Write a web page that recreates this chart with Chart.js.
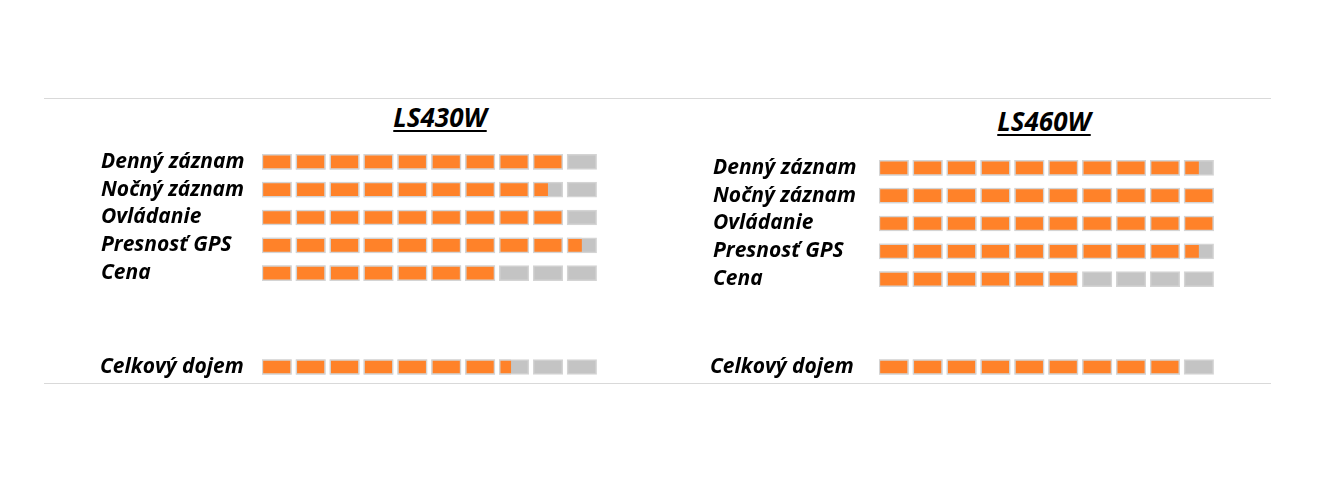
<!DOCTYPE html>
<html>
<head>
<meta charset="utf-8">
<title>LS430W vs LS460W</title>
<script src="https://cdn.jsdelivr.net/npm/chart.js@4"></script>
<style>
  body {
    margin: 0;
    width: 1324px;
    height: 496px;
    position: relative;
    background: #fff;
    overflow: hidden;
    font-family: "Open Sans", sans-serif;
  }
  .rule {
    position: absolute;
    left: 44px;
    width: 1227px;
    height: 0;
    border-top: 1px solid #d9d9d9;
  }
  .title {
    position: absolute;
    width: 200px;
    text-align: center;
    font: italic 700 26px "Open Sans", sans-serif;
    line-height: 1.2;
    text-decoration: underline;
    text-decoration-thickness: 2px;
    text-underline-offset: 3px;
    color: #000;
  }
  .box { position: absolute; }
</style>
</head>
<body>
  <div class="rule" style="top:98px"></div>
  <div class="rule" style="top:383px"></div>

  <div class="title" style="left:340px; top:102px">LS430W</div>
  <div class="title" style="left:944px; top:106px">LS460W</div>

  <div class="box" style="left:101px; top:148px; width:500px; height:139px"><canvas id="topLeft"></canvas></div>
  <div class="box" style="left:100px; top:353px; width:501px; height:28px"><canvas id="bottomLeft"></canvas></div>
  <div class="box" style="left:713px; top:154px; width:505px; height:139px"><canvas id="topRight"></canvas></div>
  <div class="box" style="left:710px; top:353px; width:508px; height:28px"><canvas id="bottomRight"></canvas></div>

<script>
  // ratings, out of 10 segments
  const criteria = ['Denný záznam', 'Nočný záznam', 'Ovládanie', 'Presnosť GPS', 'Cena'];
  const overallLabel = ['Celkový dojem'];
  const ls430w = [9, 8.5, 9, 9.5, 7];
  const ls430wOverall = [7.4];
  const ls460w = [9.5, 10, 10, 9.5, 6];
  const ls460wOverall = [9];
  const segmentCount = 10;

  const ORANGE = '#ff8229';
  const GRAY = '#c4c4c4';
  const EDGE = '#d4d4d4';
  const FILL = 0.87; // share of one unit taken by a segment, rest is the gap

  function buildDatasets(values) {
    const sets = [];
    for (let k = 0; k < segmentCount; k++) {
      // grey background segment
      sets.push({
        data: values.map(() => [k, k + FILL]),
        backgroundColor: GRAY,
        borderColor: EDGE,
        borderWidth: 1.5,
        borderSkipped: false,
        order: 1
      });
      // orange part of the same segment
      sets.push({
        data: values.map(v => v > k ? [k, k + FILL * Math.min(1, v - k)] : null),
        backgroundColor: ORANGE,
        borderColor: EDGE,
        borderWidth: ctx => {
          const v = values[ctx.dataIndex];
          return v - k >= 1 ? 1.5 : { top: 1.5, bottom: 1.5, left: 1.5, right: 0 };
        },
        borderSkipped: false,
        order: 0
      });
    }
    return sets;
  }

  function makePanel(id, labels, values, axisWidth) {
    new Chart(document.getElementById(id), {
      type: 'bar',
      data: { labels: labels, datasets: buildDatasets(values) },
      options: {
        indexAxis: 'y',
        responsive: true,
        maintainAspectRatio: false,
        animation: false,
        layout: { padding: 0 },
        datasets: { bar: { grouped: false, barThickness: 15 } },
        plugins: { legend: { display: false }, tooltip: { enabled: false } },
        scales: {
          x: { display: false, min: 0, max: segmentCount },
          y: {
            grid: { display: false },
            border: { display: false },
            ticks: {
              autoSkip: false,
              crossAlign: 'far',
              color: '#000',
              padding: 0,
              font: { family: '"Open Sans"', size: 21, style: 'italic', weight: 'bold' }
            },
            afterFit: s => {
              s.width = axisWidth;
              s.paddingTop = 0;
              s.paddingBottom = 0;
            }
          }
        }
      }
    });
  }

  makePanel('topLeft', criteria, ls430w, 161);
  makePanel('bottomLeft', overallLabel, ls430wOverall, 162);
  makePanel('topRight', criteria, ls460w, 166);
  makePanel('bottomRight', overallLabel, ls460wOverall, 169);
</script>
</body>
</html>
